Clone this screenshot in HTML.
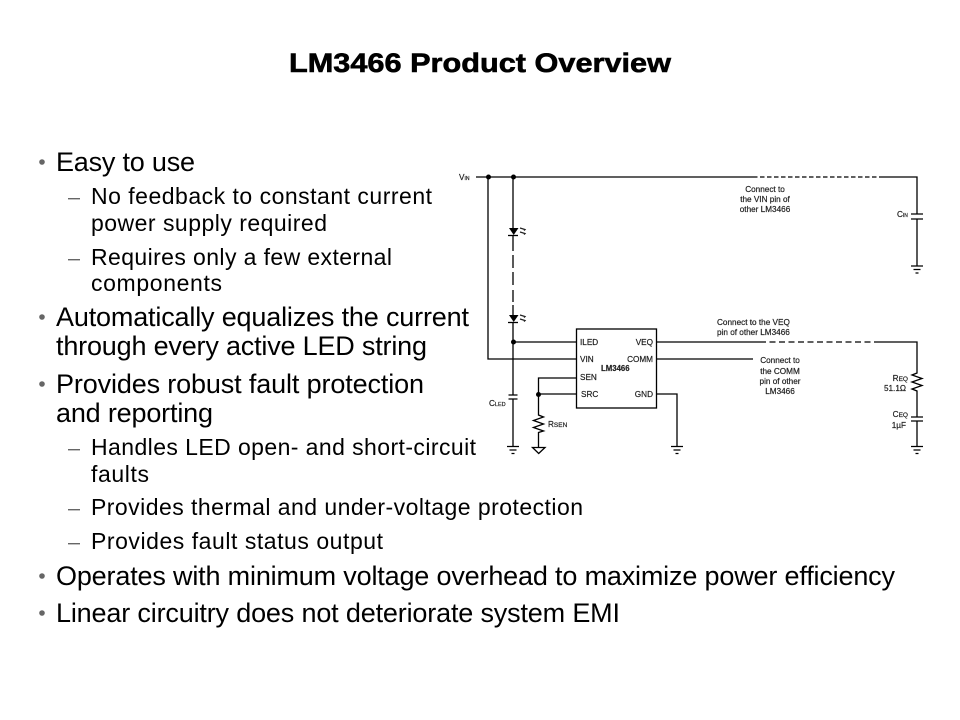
<!DOCTYPE html>
<html><head><meta charset="utf-8"><title>LM3466 Product Overview</title>
<style>
html,body{margin:0;padding:0;background:#fff;width:960px;height:720px;overflow:hidden}
svg{display:block}
text{font-family:"Liberation Sans",Arial,sans-serif;white-space:pre}
.a{font-size:27px;fill:#000}
.b{font-size:23px;fill:#000}
.s{font-size:8.2px;fill:#222;stroke:#222;stroke-width:.2}
.w{stroke:#000;stroke-width:1.3;fill:none}
.d{fill:#666}
</style></head><body>
<svg width="960" height="720" viewBox="0 0 960 720" xmlns="http://www.w3.org/2000/svg">
<rect width="960" height="720" fill="#fff"/>
<text x="289" y="72" font-size="27" font-weight="bold" textLength="382" lengthAdjust="spacingAndGlyphs" stroke="#000" stroke-width=".6">LM3466 Product Overview</text>

<g class="d">
<circle cx="42" cy="162" r="2.8"/><circle cx="42" cy="317" r="2.8"/><circle cx="42" cy="384" r="2.8"/><circle cx="42" cy="576" r="2.8"/><circle cx="42" cy="613" r="2.8"/>
<rect x="68" y="198" width="12" height="1.4"/><rect x="68" y="259" width="12" height="1.4"/><rect x="68" y="449" width="12" height="1.4"/><rect x="68" y="509" width="12" height="1.4"/><rect x="68" y="543" width="12" height="1.4"/>
</g>

<text class="a" x="56" y="171" textLength="139" lengthAdjust="spacing">Easy to use</text>
<text class="b" x="91" y="204" textLength="341" lengthAdjust="spacing">No feedback to constant current</text>
<text class="b" x="91" y="231" textLength="236" lengthAdjust="spacing">power supply required</text>
<text class="b" x="91" y="265" textLength="301" lengthAdjust="spacing">Requires only a few external</text>
<text class="b" x="91" y="291" textLength="131" lengthAdjust="spacing">components</text>
<text class="a" x="56" y="326" textLength="413" lengthAdjust="spacing">Automatically equalizes the current</text>
<text class="a" x="56" y="355" textLength="371" lengthAdjust="spacing">through every active LED string</text>
<text class="a" x="56" y="393" textLength="368" lengthAdjust="spacing">Provides robust fault protection</text>
<text class="a" x="56" y="422" textLength="157" lengthAdjust="spacing">and reporting</text>
<text class="b" x="91" y="455" textLength="385" lengthAdjust="spacing">Handles LED open- and short-circuit</text>
<text class="b" x="91" y="482" textLength="58" lengthAdjust="spacing">faults</text>
<text class="b" x="91" y="515" textLength="492" lengthAdjust="spacing">Provides thermal and under-voltage protection</text>
<text class="b" x="91" y="549" textLength="292" lengthAdjust="spacing">Provides fault status output</text>
<text class="a" x="56" y="585" textLength="839" lengthAdjust="spacing">Operates with minimum voltage overhead to maximize power efficiency</text>
<text class="a" x="56" y="622" textLength="564" lengthAdjust="spacing">Linear circuitry does not deteriorate system EMI</text>

<!-- Schematic -->
<g class="w">
<path d="M476 177H753"/>
<path d="M753 177H883" stroke-dasharray="4.500 2.500"/>
<path d="M883 177H917V214M917 219V266"/>
<path d="M911 214H923M911 219H923"/>
<path d="M911 266H923M913.500 269.500H920.500M915.500 273H918.500"/>
<path d="M488 177V359H576"/>
<path d="M513 177V228"/>
<path d="M508 235.500H518"/>
<path d="M513 236V251M513 255V268M513 272V285M513 290V302M513 305V315"/>
<path d="M508 322.500H518"/>
<path d="M513 322V395M513 399V446"/>
<path d="M508.500 395H517.500M508.500 399H517.500"/>
<path d="M507 446.500H519M509.500 450H516.500M511.500 453.500H514.500"/>
<path d="M513 342H576"/>
<rect x="576.500" y="329" width="80" height="79"/>
<path d="M576 378H538.500V415l5 2-10 3.500 10 3.500-10 3.500 10 3.500-5 1.500V447"/>
<path d="M538 394H576"/>
<path d="M532.500 447.500H545L538.700 453.500Z"/>
<path d="M656 394H677V446"/>
<path d="M671 446.500H683M673.500 450H680.500M675.500 453.500H678.500"/>
<path d="M656 342H760"/>
<path d="M760 342H880" stroke-dasharray="6 3.500"/>
<path d="M880 342H917V373l-5 2 10 3.500-10 3.500 10 3.500-10 3.500 5 2V417M917 421V446"/>
<path d="M911 417H923M911 421H923"/>
<path d="M911 446.500H923M913.500 450H920.500M915.500 453.500H918.500"/>
<path d="M656 359H753"/>
</g>
<g fill="#000">
<circle cx="488.500" cy="177" r="2.500"/><circle cx="513.500" cy="177" r="2.500"/><circle cx="513.500" cy="342" r="2.500"/><circle cx="538.500" cy="394.500" r="2.500"/>
<path d="M509 228H518.500L513.700 235Z"/>
<path d="M509 315H518.500L513.700 322Z"/>
</g>
<g stroke="#222" stroke-width="1.300" fill="none">
<path d="M520 228l5 1.500-1 1M520 232l5 1.500-1 1M520 315l5 1.500-1 1M520 319l5 1.500-1 1"/>
</g>

<g class="s">
<text x="459" y="180">V<tspan font-size="5">IN</tspan></text>
<g text-anchor="middle">
<text x="765" y="192">Connect to</text>
<text x="765" y="202">the VIN pin of</text>
<text x="765" y="212">other LM3466</text>
<text x="780" y="363">Connect to</text>
<text x="780" y="374">the COMM</text>
<text x="780" y="384">pin of other</text>
<text x="780" y="394">LM3466</text>
</g>
<text x="897" y="217">C<tspan font-size="5">IN</tspan></text>
<text x="717" y="325">Connect to the VEQ</text>
<text x="717" y="335">pin of other LM3466</text>
<text x="580" y="345">ILED</text>
<text x="580" y="362">VIN</text>
<text x="580" y="380">SEN</text>
<text x="581" y="397">SRC</text>
<g text-anchor="end">
<text x="653" y="345">VEQ</text>
<text x="653" y="362">COMM</text>
<text x="653" y="397">GND</text>
<text x="908" y="381">R<tspan font-size="6.500">EQ</tspan></text>
<text x="906" y="391">51.1Ω</text>
<text x="908" y="417">C<tspan font-size="6.500">EQ</tspan></text>
<text x="906" y="428">1µF</text>
</g>
<text x="601" y="371" font-weight="bold" font-size="7.800">LM3466</text>
<text x="489" y="406">C<tspan font-size="5.500">LED</tspan></text>
<text x="548" y="427">R<tspan font-size="6.500">SEN</tspan></text>
</g>
</svg>
</body></html>
